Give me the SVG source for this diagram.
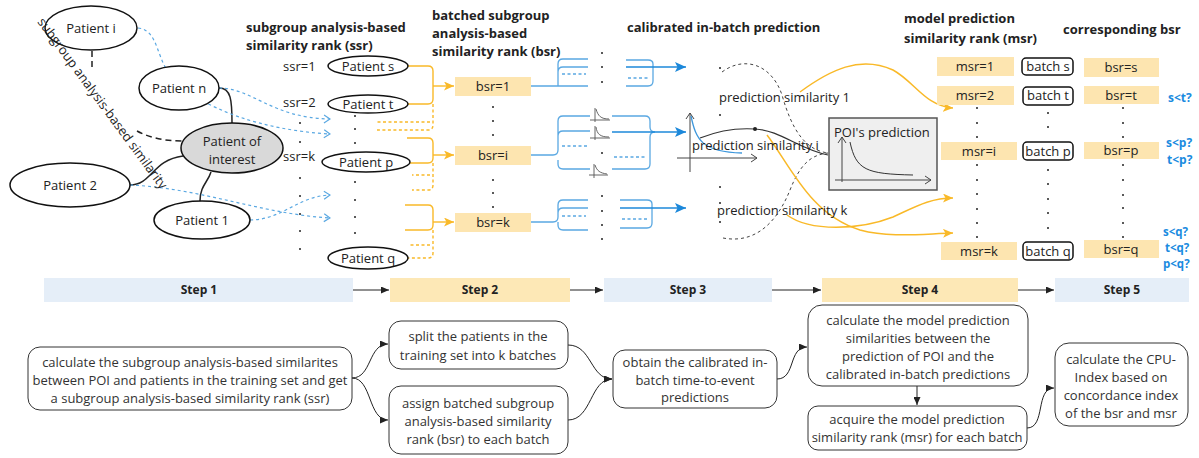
<svg xmlns="http://www.w3.org/2000/svg" width="1199" height="458" viewBox="0 0 1199 458">
<style>
  text { font-family: "Open Sans", "Noto Sans", "DejaVu Sans", sans-serif; fill: #222; }
  .t13 { font-size: 13px; }
  .c { text-anchor: middle; }
  .title { font-size: 13px; font-weight: bold; fill: #222; }
  .step { font-size: 12px; font-weight: bold; fill: #222; text-anchor: middle; }
  .q { font-size: 12px; font-weight: bold; fill: #1a8be0; }
  .qs { font-size: 11.5px; font-weight: bold; fill: #1a8be0; }
  .box { font-size: 13px; fill: #333; text-anchor: middle; }
  .pt { fill: #fff; stroke: #111; stroke-width: 1.5; }
  .ybox { fill: #fde5b0; }
  .bbox { fill: #fff; stroke: #111; stroke-width: 1.5; }
  .rbox { fill: #fff; stroke: #333; stroke-width: 1; }
  .bar-b { fill: #e5eef8; }
  .bar-y { fill: #fde8b6; }
  .link { fill: none; stroke: #222; stroke-width: 1.5; }
  .dlink { fill: none; stroke: #222; stroke-width: 1.5; stroke-dasharray: 6 4; }
  .bdash { fill: none; stroke: #5aa8e2; stroke-width: 1.2; stroke-dasharray: 3 3; }
  .yl { fill: none; stroke: #f9b928; stroke-width: 1.4; }
  .yld { fill: none; stroke: #f9b928; stroke-width: 1.4; stroke-dasharray: 3 2.5; }
  .bl { fill: none; stroke: #5aa8e2; stroke-width: 1.3; }
  .bld { fill: none; stroke: #5aa8e2; stroke-width: 1.3; stroke-dasharray: 3 2.5; }
  .ba { fill: none; stroke: #1c88da; stroke-width: 1.6; }
  .ycurve { fill: none; stroke: #f9b928; stroke-width: 1.5; }
  .ax { fill: none; stroke: #444; stroke-width: 1; }
  .kdash { fill: none; stroke: #444; stroke-width: 1; stroke-dasharray: 3 3; }
  .arr { fill: none; stroke: #222; stroke-width: 1; }
  .dot { fill: #222; }
</style>
<defs>
  <marker id="mBlk" viewBox="0 0 8 7" refX="8" refY="3.5" markerWidth="8" markerHeight="7" markerUnits="userSpaceOnUse" orient="auto">
    <path d="M0,0 L8,3.5 L0,7 z" fill="#222"/>
  </marker>
  <marker id="mYel" viewBox="0 0 10 9" refX="10" refY="4.5" markerWidth="10" markerHeight="9" markerUnits="userSpaceOnUse" orient="auto">
    <path d="M0,0 L10,4.5 L0,9 L2.5,4.5 z" fill="#f9b928"/>
  </marker>
  <marker id="mBlu" viewBox="0 0 11 10" refX="11" refY="5" markerWidth="11" markerHeight="10" markerUnits="userSpaceOnUse" orient="auto">
    <path d="M0,0 L11,5 L0,10 L2.5,5 z" fill="#1c88da"/>
  </marker>
  <marker id="mChev" viewBox="0 0 8 10" refX="7" refY="5" markerWidth="8" markerHeight="10" markerUnits="userSpaceOnUse" orient="auto">
    <path d="M1,1 L7,5 L1,9" fill="none" stroke="#5aa8e2" stroke-width="1.2"/>
  </marker>
  <marker id="mAx" viewBox="0 0 8 10" refX="7" refY="5" markerWidth="8" markerHeight="10" markerUnits="userSpaceOnUse" orient="auto">
    <path d="M1,1 L7,5 L1,9" fill="none" stroke="#444" stroke-width="1"/>
  </marker>
</defs>

<rect width="1199" height="458" fill="#fff"/>

<!-- connectors -->
<g id="connectors">
  <!-- patient links to the patient of interest -->
  <path class="link" d="M219,88 C231,88 232,100 232,123"/>
  <path class="link" d="M130,185 C152,185 152,160 183,156"/>
  <path class="link" d="M200,201 C200,186 208,182 211,172"/>
  <path class="dlink" d="M92,51 V68"/>
  <path class="dlink" d="M137,131 C150,138 165,141 182,141"/>

  <!-- similarity ranking links -->
  <path class="bdash" d="M138,28 C160,30 155,62 176,82 C204,108 260,130 330,134" marker-end="url(#mChev)"/>
  <path class="bdash" d="M219,88 C252,88 272,118 330,119" marker-end="url(#mChev)"/>
  <path class="bdash" d="M130,185 C200,188 262,214 330,218" marker-end="url(#mChev)"/>
  <path class="bdash" d="M250,220 C282,220 298,196 330,195" marker-end="url(#mChev)"/>

  <!-- batching braces -->
  <path class="yl" d="M408,66 H428 Q433,66 433,71 V99 Q433,104 428,104 H408"/>
  <path class="yld" d="M433,104 V125 Q433,130 428,130 H377 M430,122 H377"/>
  <path class="yl" d="M433,86 H454" marker-end="url(#mYel)"/>

  <path class="yl" d="M407,138 H428 Q433,138 433,143 V158 Q433,163 428,163 H410"/>
  <path class="yld" d="M433,163 V185 Q433,190 428,190 H412 M430,175 H412"/>
  <path class="yl" d="M433,155 H454" marker-end="url(#mYel)"/>

  <path class="yl" d="M405,205 H428 Q433,205 433,210 V225 Q433,230 428,230 H405"/>
  <path class="yld" d="M433,230 V253 Q433,258 428,258 H407 M430,245 H410"/>
  <path class="yl" d="M433,222 H454" marker-end="url(#mYel)"/>

  <!-- in-batch prediction braces, batch 1 -->
  <path class="bl" d="M531,86 H588 M558,86 V64 Q558,59 563,59 H588 M558,72 Q558,67 563,67 H588"/>
  <path class="bld" d="M562,74 H586"/>
  <path class="bl" d="M626,60 H648 Q653,60 653,64 V68 M626,86 H648 Q653,86 653,81 V68"/>
  <path class="bld" d="M628,78 H650"/>
  <path class="ba" d="M626,67 H686" marker-end="url(#mBlu)"/>

  <!-- batch i -->
  <path class="bl" d="M531,155 H553 Q558,155 558,150 V121 Q558,116 563,116 H590 M558,160 V164 Q558,169 563,169 H590 M558,136 Q558,131 563,131 H590"/>
  <path class="bld" d="M562,146 H588"/>
  <path class="bl" d="M612,116 H645 Q650,116 650,121 V127 Q650,132 655,132 M612,169 H645 Q650,169 650,164 V137 Q650,132 655,132"/>
  <path class="bld" d="M614,157 H646"/>
  <path class="ba" d="M612,132 H686" marker-end="url(#mBlu)"/>

  <!-- batch k -->
  <path class="bl" d="M531,222 H553 Q558,222 558,217 V205 Q558,200 563,200 H588 M558,222 V225 Q558,230 563,230 H588 M558,213 Q558,208 563,208 H588"/>
  <path class="bld" d="M562,216 H586"/>
  <path class="bl" d="M620,200 H647 Q652,200 652,204 V208 M620,228 H647 Q652,228 652,223 V208"/>
  <path class="bld" d="M622,219 H649"/>
  <path class="ba" d="M620,208 H686" marker-end="url(#mBlu)"/>

  <!-- prediction similarity curves -->
  <path class="kdash" d="M722,72 C745,55 772,65 782,95 C792,130 805,150 828,153"/>
  <path class="kdash" d="M723,238 C760,245 780,215 790,190 C800,165 810,155 828,153"/>
  <path fill="none" stroke="#333" stroke-width="1.2" d="M700,138 C720,130 740,128 755,129 C780,130 800,150 828,155"/>

  <!-- ranking curves -->
  <path class="ycurve" d="M800,92 C830,70 860,55 893,70 C915,82 925,106 953,108" marker-end="url(#mYel)"/>
  <path class="ycurve" d="M767,135 C790,165 810,215 860,230 C890,238 920,234 953,233" marker-end="url(#mYel)"/>
  <path class="ycurve" d="M787,215 C810,232 860,230 893,217 C915,207 930,198 953,198" marker-end="url(#mYel)"/>

  <!-- step bar arrows -->
  <path class="arr" d="M353,290 H389" marker-end="url(#mBlk)"/>
  <path class="arr" d="M570,290 H603" marker-end="url(#mBlk)"/>
  <path class="arr" d="M772,290 H821" marker-end="url(#mBlk)"/>
  <path class="arr" d="M1018,290 H1054" marker-end="url(#mBlk)"/>

  <!-- workflow arrows -->
  <path class="arr" d="M352,378 C372,378 368,344 388,344" marker-end="url(#mBlk)"/>
  <path class="arr" d="M352,378 C372,378 368,420 388,420" marker-end="url(#mBlk)"/>
  <path class="arr" d="M568,345 C592,345 590,379 612,379" marker-end="url(#mBlk)"/>
  <path class="arr" d="M568,420 C592,420 590,379 612,379" marker-end="url(#mBlk)"/>
  <path class="arr" d="M777,379 C796,379 788,347 807,347" marker-end="url(#mBlk)"/>
  <path class="arr" d="M917,386 V405" marker-end="url(#mBlk)"/>
  <path class="arr" d="M1027,428 C1046,428 1035,388 1054,388" marker-end="url(#mBlk)"/>
</g>

<!-- step 1: similarity -->
<g id="patient-i"><ellipse class="pt" cx="91" cy="28" rx="46" ry="22"/><text class="t13 c" x="91" y="33">Patient i</text></g>
<g id="patient-n"><ellipse class="pt" cx="179" cy="88" rx="40" ry="22"/><text class="t13 c" x="179" y="93">Patient n</text></g>
<g id="patient-of-interest"><ellipse cx="232" cy="148" rx="51" ry="25" fill="#d9d9d9" stroke="#111" stroke-width="1.5"/><text class="t13 c" x="232" y="146">Patient of</text><text class="t13 c" x="232" y="164">interest</text></g>
<g id="patient-2"><ellipse class="pt" cx="70" cy="185" rx="60" ry="22"/><text class="t13 c" x="70" y="190">Patient 2</text></g>
<g id="patient-1"><ellipse class="pt" cx="202" cy="220" rx="48" ry="19"/><text class="t13 c" x="202" y="225">Patient 1</text></g>
<g id="label-similarity">
  <text class="t13" transform="translate(37,22) rotate(53.6)" fill="#333">subgroup analysis-based similarity</text>
</g>

<!-- ssr column -->
<g id="ssr-title"><text class="title" x="246" y="32">subgroup analysis-based</text><text class="title" x="246" y="50">similarity rank (ssr)</text></g>
<g id="ssr-labels">
  <text class="t13" x="283" y="71">ssr=1</text>
  <text class="t13" x="283" y="107">ssr=2</text>
  <text class="t13" x="283" y="161">ssr=k</text>
  <g class="dot"><circle cx="300" cy="123" r="1"/><circle cx="300" cy="142" r="1"/><circle cx="300" cy="178" r="1"/><circle cx="300" cy="196" r="1"/><circle cx="300" cy="214" r="1"/><circle cx="300" cy="231" r="1"/><circle cx="300" cy="249" r="1"/></g>
</g>
<g id="patient-s"><ellipse class="pt" cx="368" cy="66" rx="40" ry="10"/><text class="t13 c" x="368" y="71">Patient s</text></g>
<g id="patient-t"><ellipse class="pt" cx="368" cy="104" rx="40" ry="9"/><text class="t13 c" x="368" y="109">Patient t</text></g>
<g id="patient-p"><ellipse class="pt" cx="366" cy="162" rx="44" ry="10"/><text class="t13 c" x="366" y="167">Patient p</text></g>
<g id="patient-q"><ellipse class="pt" cx="368" cy="258" rx="40" ry="11"/><text class="t13 c" x="368" y="263">Patient q</text></g>
<g id="ssr-dots" class="dot"><circle cx="355" cy="116" r="1"/><circle cx="355" cy="129" r="1"/><circle cx="355" cy="143" r="1"/><circle cx="355" cy="182" r="1"/><circle cx="355" cy="200" r="1"/><circle cx="355" cy="217" r="1"/><circle cx="355" cy="233" r="1"/></g>

<!-- step 2: batches -->
<g id="bsr-title"><text class="title" x="432" y="20">batched subgroup</text><text class="title" x="432" y="38">analysis-based</text><text class="title" x="432" y="56">similarity rank (bsr)</text></g>
<g id="bsr-1"><rect class="ybox" x="455" y="77" width="76" height="19"/><text class="t13 c" x="493" y="91">bsr=1</text></g>
<g id="bsr-i"><rect class="ybox" x="455" y="146" width="76" height="19"/><text class="t13 c" x="493" y="160">bsr=i</text></g>
<g id="bsr-k"><rect class="ybox" x="455" y="213" width="76" height="19"/><text class="t13 c" x="493" y="227">bsr=k</text></g>
<g id="bsr-dots" class="dot"><circle cx="493" cy="107" r="1"/><circle cx="493" cy="121" r="1"/><circle cx="493" cy="135" r="1"/><circle cx="493" cy="180" r="1"/><circle cx="493" cy="193" r="1"/><circle cx="493" cy="207" r="1"/></g>

<!-- step 3: calibrated predictions -->
<g id="pred-title"><text class="title" x="627" y="32">calibrated in-batch prediction</text></g>
<g id="batch-dots" class="dot"><circle cx="602" cy="53" r="1"/><circle cx="602" cy="67" r="1"/><circle cx="602" cy="82" r="1"/><circle cx="602" cy="153" r="1"/><circle cx="602" cy="196" r="1"/><circle cx="602" cy="211" r="1"/><circle cx="602" cy="225" r="1"/><circle cx="602" cy="239" r="1"/></g>
<g id="mini-curves" fill="none" stroke="#555" stroke-width="0.9">
  <path d="M595,108 V122 M590,120 H610 M596,109 C598,116 601,119 609,119"/>
  <path d="M595,126 V140 M590,138 H610 M596,127 C597,134 600,137 609,137"/>
  <path d="M594,164 V178 M589,175 H608 M595,165 C597,171 600,173 607,174"/>
</g>
<g id="in-batch-plot">
  <path class="ax" d="M690,172 V113" marker-end="url(#mAx)"/>
  <path class="ax" d="M677,158 H757" marker-end="url(#mAx)"/>
  <path fill="none" stroke="#3d97dc" stroke-width="1.3" d="M691,116 C696,140 702,152 742,153"/>
  <circle cx="755" cy="129" r="2" fill="#222"/>
</g>
<g id="sim-labels">
  <g class="dot"><circle cx="720" cy="68" r="1"/><circle cx="720" cy="115" r="1"/><circle cx="720" cy="187" r="1"/><circle cx="720" cy="203" r="1"/><circle cx="720" cy="222" r="1"/></g>
  <text class="t13" x="719" y="102">prediction similarity 1</text>
  <text class="t13" x="692" y="150">prediction similarity i</text>
  <text class="t13" x="717" y="215">prediction similarity k</text>
</g>
<g id="poi-prediction">
  <rect x="829" y="118" width="108" height="72" fill="#efefef" stroke="#555" stroke-width="1.5"/>
  <text class="t13" x="834" y="137">POI's prediction</text>
  <path class="ax" d="M842,182 V137" marker-end="url(#mAx)"/>
  <path class="ax" d="M835,180 H931" marker-end="url(#mAx)"/>
  <path fill="none" stroke="#333" stroke-width="1" d="M850,142 C856,170 866,174 913,175"/>
</g>

<!-- step 4: model prediction ranks -->
<g id="msr-title"><text class="title" x="904" y="23">model prediction</text><text class="title" x="904" y="43">similarity rank (msr)</text></g>
<g id="corr-title"><text class="title" x="1063" y="34">corresponding bsr</text></g>
<g id="msr-1"><rect class="ybox" x="937" y="57" width="77" height="19"/><text class="t13 c" x="975" y="71">msr=1</text></g>
<g id="msr-2"><rect class="ybox" x="937" y="86" width="77" height="19"/><text class="t13 c" x="975" y="100">msr=2</text></g>
<g id="msr-i"><rect class="ybox" x="941" y="142" width="76" height="18"/><text class="t13 c" x="979" y="156">msr=i</text></g>
<g id="msr-k"><rect class="ybox" x="941" y="242" width="76" height="18"/><text class="t13 c" x="979" y="256">msr=k</text></g>
<g id="batch-s"><rect class="bbox" x="1022" y="58" width="51" height="17" rx="4"/><text class="t13 c" x="1048" y="71">batch s</text></g>
<g id="batch-t"><rect class="bbox" x="1023" y="87" width="50" height="18" rx="4"/><text class="t13 c" x="1048" y="100">batch t</text></g>
<g id="batch-p"><rect class="bbox" x="1023" y="142" width="50" height="18" rx="4"/><text class="t13 c" x="1048" y="156">batch p</text></g>
<g id="batch-q"><rect class="bbox" x="1023" y="242" width="50" height="18" rx="4"/><text class="t13 c" x="1048" y="256">batch q</text></g>
<g id="bsr-s"><rect class="ybox" x="1084" y="58" width="75" height="19"/><text class="t13 c" x="1121" y="72">bsr=s</text></g>
<g id="bsr-t"><rect class="ybox" x="1084" y="86" width="75" height="18"/><text class="t13 c" x="1121" y="100">bsr=t</text></g>
<g id="bsr-p"><rect class="ybox" x="1084" y="142" width="75" height="17"/><text class="t13 c" x="1121" y="155">bsr=p</text></g>
<g id="bsr-q"><rect class="ybox" x="1084" y="240" width="75" height="18"/><text class="t13 c" x="1121" y="254">bsr=q</text></g>
<g id="rank-dots" class="dot">
  <circle cx="977" cy="108" r="1"/><circle cx="977" cy="123" r="1"/><circle cx="977" cy="137" r="1"/><circle cx="977" cy="165" r="1"/><circle cx="977" cy="180" r="1"/><circle cx="977" cy="194" r="1"/><circle cx="977" cy="209" r="1"/><circle cx="977" cy="223" r="1"/><circle cx="977" cy="237" r="1"/>
  <circle cx="1048" cy="113" r="1"/><circle cx="1048" cy="127" r="1"/><circle cx="1048" cy="170" r="1"/><circle cx="1048" cy="184" r="1"/><circle cx="1048" cy="199" r="1"/><circle cx="1048" cy="213" r="1"/><circle cx="1048" cy="228" r="1"/>
  <circle cx="1123" cy="108" r="1"/><circle cx="1123" cy="123" r="1"/><circle cx="1123" cy="137" r="1"/><circle cx="1123" cy="165" r="1"/><circle cx="1123" cy="180" r="1"/><circle cx="1123" cy="195" r="1"/><circle cx="1123" cy="208" r="1"/><circle cx="1123" cy="223" r="1"/><circle cx="1123" cy="237" r="1"/>
</g>
<g id="pair-checks">
  <text class="q" x="1168" y="102">s&lt;t?</text>
  <text class="q" x="1166" y="147">s&lt;p?</text>
  <text class="q" x="1167" y="164">t&lt;p?</text>
  <text class="qs" x="1163" y="236">s&lt;q?</text>
  <text class="qs" x="1165" y="252">t&lt;q?</text>
  <text class="qs" x="1163" y="268">p&lt;q?</text>
</g>

<!-- step bar -->
<g id="step-1"><rect class="bar-b" x="44" y="278" width="309" height="24"/><text class="step" x="199" y="294">Step 1</text></g>
<g id="step-2"><rect class="bar-y" x="390" y="278" width="180" height="24"/><text class="step" x="480" y="294">Step 2</text></g>
<g id="step-3"><rect class="bar-b" x="604" y="278" width="168" height="24"/><text class="step" x="688" y="294">Step 3</text></g>
<g id="step-4"><rect class="bar-y" x="822" y="278" width="196" height="24"/><text class="step" x="920" y="294">Step 4</text></g>
<g id="step-5"><rect class="bar-b" x="1055" y="278" width="134" height="24"/><text class="step" x="1122" y="294">Step 5</text></g>

<!-- workflow boxes -->
<g id="box-ssr"><rect class="rbox" x="28" y="347" width="324" height="63" rx="12"/>
  <text class="box" x="190" y="367">calculate the subgroup analysis-based similarites</text>
  <text class="box" x="190" y="385">between POI and patients in the training set and get</text>
  <text class="box" x="190" y="403">a subgroup analysis-based similarity rank (ssr)</text></g>
<g id="box-split"><rect class="rbox" x="389" y="321" width="179" height="48" rx="12"/>
  <text class="box" x="478" y="341">split the patients in the</text>
  <text class="box" x="478" y="360">training set into k batches</text></g>
<g id="box-assign"><rect class="rbox" x="389" y="386" width="179" height="68" rx="12"/>
  <text class="box" x="478" y="408">assign batched subgroup</text>
  <text class="box" x="478" y="426">analysis-based similarity</text>
  <text class="box" x="478" y="444">rank (bsr) to each batch</text></g>
<g id="box-calibrate"><rect class="rbox" x="613" y="350" width="164" height="58" rx="12"/>
  <text class="box" x="695" y="367">obtain the calibrated in-</text>
  <text class="box" x="695" y="385">batch time-to-event</text>
  <text class="box" x="695" y="402">predictions</text></g>
<g id="box-model-sim"><rect class="rbox" x="808" y="305" width="220" height="81" rx="14"/>
  <text class="box" x="918" y="325">calculate the model prediction</text>
  <text class="box" x="918" y="343">similarities between the</text>
  <text class="box" x="918" y="361">prediction of POI and the</text>
  <text class="box" x="918" y="379">calibrated in-batch predictions</text></g>
<g id="box-msr"><rect class="rbox" x="808" y="406" width="219" height="44" rx="10"/>
  <text class="box" x="917" y="424">acquire the model prediction</text>
  <text class="box" x="917" y="442">similarity rank (msr) for each batch</text></g>
<g id="box-cpu"><rect class="rbox" x="1055" y="343" width="133" height="83" rx="14"/>
  <text class="box" x="1121" y="364">calculate the CPU-</text>
  <text class="box" x="1121" y="382">Index based on</text>
  <text class="box" x="1121" y="400">concordance index</text>
  <text class="box" x="1121" y="418">of the bsr and msr</text></g>
</svg>
